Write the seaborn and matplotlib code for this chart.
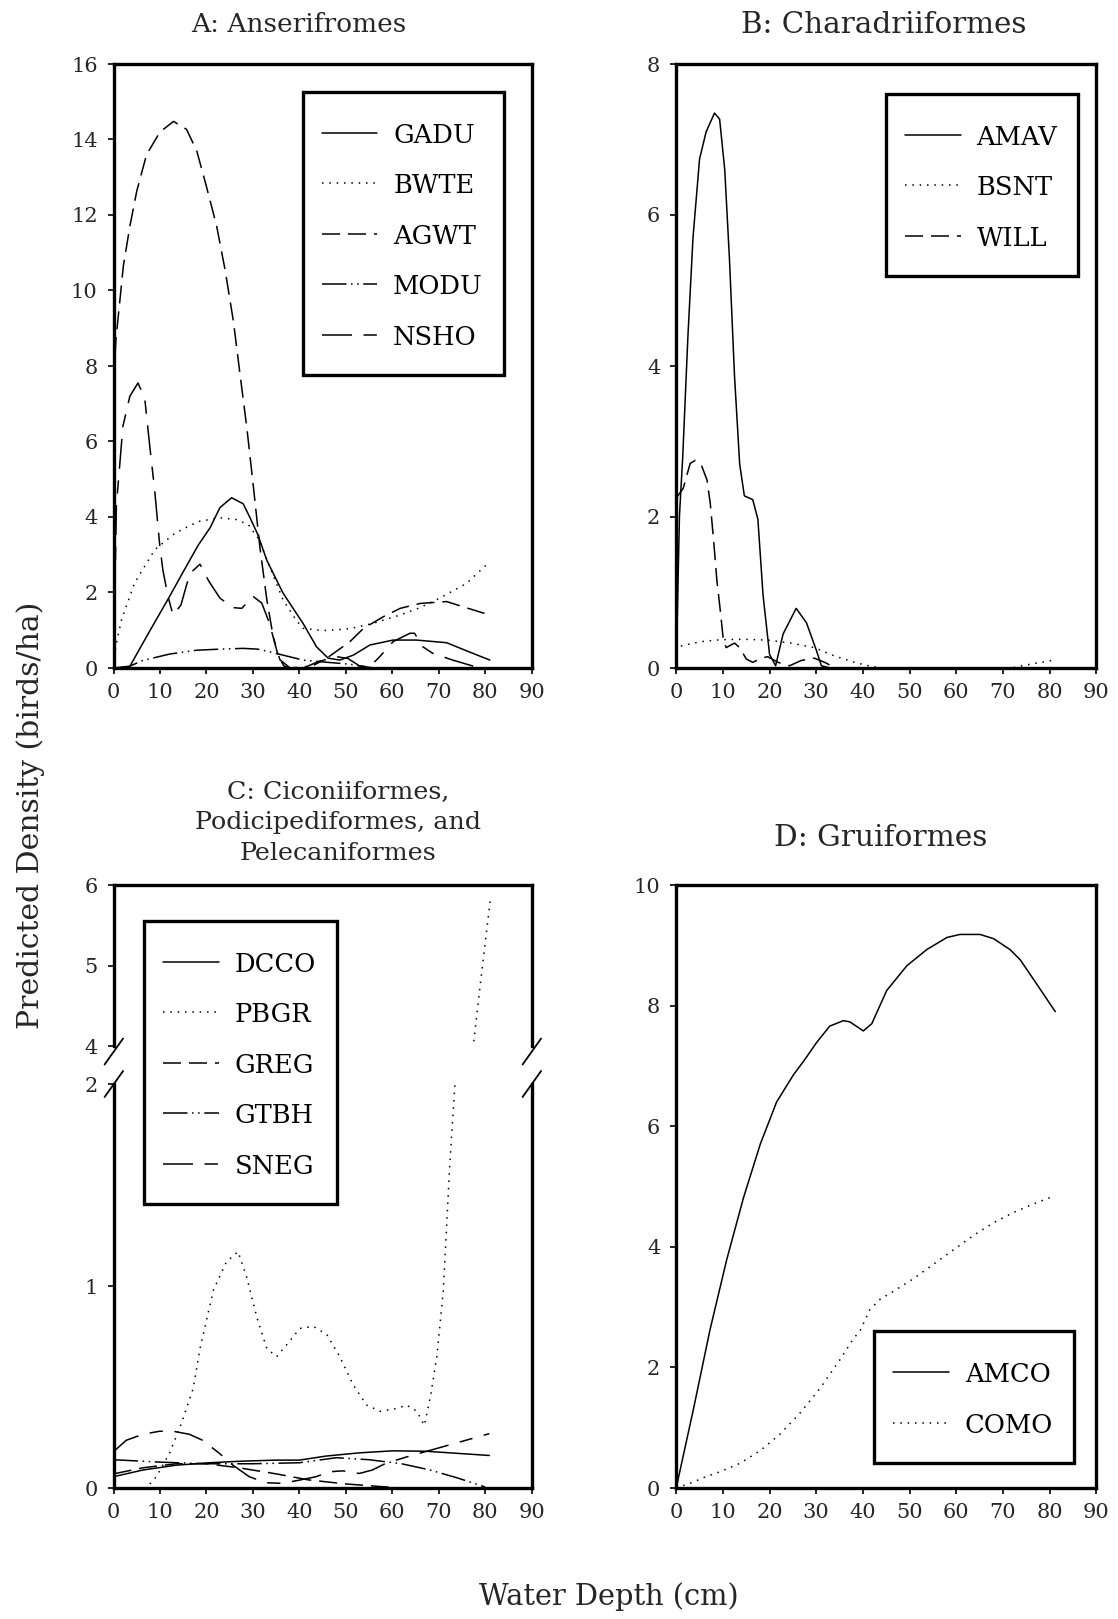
import matplotlib
matplotlib.use("Agg")
import matplotlib.pyplot as plt
from matplotlib.lines import Line2D
from matplotlib.patches import Rectangle
import seaborn as sns

# ---------------- data ----------------
# Panel A: Anseriformes
gadu_x = [0, 3.3, 7.5, 11.8, 15, 18.2, 20.8, 22.9, 25.4, 27.9, 29.3, 31, 33, 36.5, 40.8, 43.7,
          46.2, 48.7, 51.6, 55.2, 60.2, 65.2, 71.7, 76.3, 81]
gadu_y = [0, 0, 0.92, 1.84, 2.55, 3.25, 3.72, 4.25, 4.51, 4.35, 4.0, 3.55, 2.85, 1.98, 1.18, 0.56,
          0.26, 0.21, 0.34, 0.61, 0.74, 0.74, 0.67, 0.44, 0.21]
bwte_x = [0, 0.5, 1.7, 4.5, 8.85, 13.2, 18.2, 22.9, 26.5, 29, 31.4, 33.6, 36.5, 39.3, 40.8, 45.1,
          50.8, 55.8, 61.6, 66, 70.2, 76, 81]
bwte_y = [0.1, 0.6, 1.27, 2.25, 3.13, 3.57, 3.88, 3.98, 3.93, 3.8, 3.39, 2.68, 1.8, 1.27, 1.05, 0.99,
          1.04, 1.18, 1.4, 1.6, 1.85, 2.24, 2.82]
agwt_x = [0, 0.5, 2.1, 3.5, 5, 7.1, 10, 12.9, 15.7, 17.9, 20, 22.2, 24, 25.8, 27.2, 28.7, 30.1,
          31.5, 33, 34.4, 35.5, 36.7, 38, 41.6, 45.9, 50.9, 53.8, 58.1, 61.7, 66, 71.7, 75.3, 80.3]
agwt_y = [7.6, 8.7, 10.65, 11.7, 12.64, 13.6, 14.2, 14.48, 14.27, 13.7, 12.75, 11.7, 10.55, 9.18,
          7.8, 6.35, 4.8, 3.2, 1.8, 0.8, 0.3, 0.05, 0, 0.04, 0.26, 0.7, 1.05, 1.36, 1.58, 1.71,
          1.76, 1.62, 1.43]
modu_x = [0, 3.5, 6.3, 12.1, 17.8, 22.9, 27.9, 31, 34.3, 36.5, 40.8, 45.1, 50.9, 53.8, 56]
modu_y = [0, 0.05, 0.2, 0.37, 0.47, 0.5, 0.52, 0.5, 0.41, 0.34, 0.21, 0.16, 0.1, 0.04, 0]
nsho_x = [0, 0.6, 2.0, 3.5, 5.25, 6.7, 7.8, 8.85, 9.9, 10.6, 11.7, 12.8, 14.5, 16.4, 18.6, 20.5,
          22.9, 25.7, 27.6, 30, 31.9, 33.3, 35.8, 38, 42, 45, 48, 50.5, 53, 55.2, 57.3, 60.2,
          63.8, 64.8, 66.6, 68.7, 73, 78.8, 81]
nsho_y = [0, 4.3, 6.4, 7.2, 7.55, 7.15, 5.86, 4.7, 3.3, 2.6, 1.9, 1.4, 1.67, 2.5, 2.75, 2.3,
          1.85, 1.6, 1.58, 1.9, 1.72, 1.27, 0.22, 0, 0, 0.2, 0.3, 0.25, 0.05, 0.04, 0.3, 0.7,
          0.92, 0.92, 0.56, 0.39, 0.21, 0, 0]

# Panel B: Charadriiformes
amav_x = [0, 0.7, 1.4, 2.5, 3.6, 5.0, 6.4, 8.2, 9.3, 10.4, 11.4, 12.5, 13.6, 14.6, 16.4, 17.5,
          18.6, 20, 21.3, 22.9, 25.7, 27.9, 30, 31.1, 33]
amav_y = [0, 2.02, 2.8, 4.38, 5.7, 6.74, 7.1, 7.35, 7.27, 6.6, 5.43, 3.86, 2.7, 2.28, 2.23, 1.97,
          0.97, 0.18, 0.03, 0.45, 0.79, 0.6, 0.24, 0.03, 0]
bsnt_x = [1, 1.5, 5.4, 9.6, 14.6, 19.6, 24.6, 29.6, 33.9, 38.2, 41.8, 44.6, 72, 73.2, 76.8, 79.6, 80.5]
bsnt_y = [0.29, 0.3, 0.35, 0.375, 0.38, 0.37, 0.33, 0.27, 0.16, 0.075, 0.02, 0, 0, 0.02, 0.06, 0.09, 0.1]
will_x = [0, 1.5, 3.0, 4.1, 5.5, 6.6, 7.3, 8.0, 8.7, 9.5, 10.1, 10.7, 12.5, 13.6, 15, 16.4, 18.2,
          19.6, 21.8, 24.3, 26.8, 29.6, 31.8, 33.2]
will_y = [2.25, 2.38, 2.71, 2.75, 2.67, 2.49, 2.18, 1.7, 1.17, 0.73, 0.37, 0.27, 0.33, 0.27, 0.12,
          0.075, 0.13, 0.15, 0.075, 0.03, 0.1, 0.13, 0.075, 0.03]

# Panel C: Ciconiiformes, Podicipediformes, Pelecaniformes (broken axis)
dcco_x = [0, 6.3, 13.5, 20.6, 27.8, 35, 40, 45.7, 52.9, 60.1, 67.2, 74.4, 80.9]
dcco_y = [0.056, 0.089, 0.113, 0.125, 0.133, 0.138, 0.138, 0.158, 0.174, 0.184, 0.182, 0.171, 0.161]
pbgr_x = [7.8, 9.2, 12, 14.6, 17.1, 18.6, 21.5, 24.3, 26.8, 28.7, 30.9, 33, 35.1, 37.3, 40.1, 43,
          45.9, 48.7, 51.6, 54.5, 57.4, 60.3, 63.1, 65.3, 66.9, 68.2, 69.6, 71, 72.4, 73.5, 75.5,
          77.4, 79.2, 81.2]
pbgr_y = [0.02, 0.056, 0.17, 0.32, 0.49, 0.69, 0.98, 1.12, 1.17, 1.04, 0.84, 0.69, 0.65, 0.71,
          0.79, 0.8, 0.76, 0.65, 0.51, 0.41, 0.38, 0.39, 0.41, 0.38, 0.31, 0.45, 0.65, 0.98, 1.61,
          2.0, 3.0, 3.98, 4.89, 5.86]
greg_x = [0, 6.3, 13.5, 20, 27, 35, 42, 50, 57, 62]
greg_y = [0.07, 0.1, 0.12, 0.12, 0.1, 0.07, 0.04, 0.02, 0.008, 0.0]
gtbh_x = [0, 10, 20, 30, 40, 48, 55, 62, 68, 74, 80]
gtbh_y = [0.14, 0.128, 0.12, 0.12, 0.125, 0.15, 0.14, 0.12, 0.09, 0.05, 0.005]
sneg_x = [0, 2.7, 6.3, 9.9, 12.8, 16.3, 19.2, 22.8, 25.7, 29.2, 32.8, 36.4, 40, 43.6, 46.4, 49.3,
          52.9, 55.7, 58.6, 63.7, 68.7, 75.8, 80.9]
sneg_y = [0.18, 0.236, 0.266, 0.281, 0.281, 0.266, 0.236, 0.171, 0.113, 0.056, 0.026, 0.023,
          0.039, 0.056, 0.08, 0.085, 0.072, 0.089, 0.122, 0.158, 0.19, 0.236, 0.269]

# Panel D: Gruiformes
amco_x = [0, 3.7, 7.2, 10.8, 14.4, 18, 21.5, 25.1, 27.5, 30.1, 32.9, 35.8, 37.2, 40.1, 41.9, 45.1,
          49.4, 53.7, 58, 60.8, 65.1, 68, 71.5, 73.7, 77.3, 81.2]
amco_y = [0, 1.31, 2.61, 3.78, 4.81, 5.7, 6.4, 6.85, 7.1, 7.39, 7.66, 7.75, 7.73, 7.58, 7.7,
          8.25, 8.66, 8.93, 9.13, 9.18, 9.18, 9.11, 8.93, 8.76, 8.35, 7.9]
como_x = [0, 3.7, 5.8, 9.4, 13.7, 18, 22.2, 26.5, 30.8, 35.1, 37.9, 39.4, 41.5, 43.7, 46.5, 50.8,
          55.1, 59.4, 63.7, 68, 72.3, 76.5, 81.2]
como_y = [0, 0.1, 0.17, 0.27, 0.41, 0.62, 0.89, 1.24, 1.65, 2.13, 2.47, 2.61, 2.96, 3.13, 3.26,
          3.47, 3.71, 3.95, 4.19, 4.4, 4.57, 4.71, 4.85]

x_ticks = [0, 10, 20, 30, 40, 50, 60, 70, 80, 90]
titles = ["A: Anserifromes", "B: Charadriiformes",
          "C: Ciconiiformes,\nPodicipediformes, and\nPelecaniformes", "D: Gruiformes"]
x_label = "Water Depth (cm)"
y_label = "Predicted Density (birds/ha)"

# ---------------- styling ----------------
sns.set_theme(style="ticks")
plt.rcParams['font.family'] = ['DejaVu Serif']
plt.rcParams['axes.linewidth'] = 2.4
plt.rcParams['axes.edgecolor'] = 'black'

LW = 1.1
SOLID = '-'
DOT = (0, (1, 3.8))
DASH = (0, (11.8, 5.2))
DDOT = (0, (16, 3, 1, 3, 1, 3))
LONGSHORT = (0, (19.6, 7.6, 8.7, 7.6))

W, H = 1118, 1619
fig = plt.figure(figsize=(W / 100, H / 100), dpi=100)


def px_axes(left, top, right, bottom):
    return fig.add_axes([left / W, 1 - bottom / H, (right - left) / W, (bottom - top) / H])


axA = px_axes(113.6, 64, 531.6, 668)
axB = px_axes(676.2, 64, 1096.3, 668)
axCu = px_axes(113.6, 885, 531.6, 1046)
axCl = px_axes(113.6, 1084, 531.6, 1488)
axD = px_axes(676.2, 885, 1096.3, 1488)


def draw(ax, x, y, label, ls):
    sns.lineplot(x=x, y=y, ax=ax, color='black', lw=LW, label=label,
                 estimator=None, sort=False)
    line = ax.lines[-1]
    line.set_linestyle(ls)
    line.set_linewidth(LW)
    leg = ax.get_legend()
    if leg is not None:
        leg.remove()
    return line


def fmt(ax, ylim, yticks, xlabels=True):
    ax.set_xlim(0, 90)
    ax.set_ylim(*ylim)
    ax.set_xticks(x_ticks)
    ax.set_yticks(yticks)
    ax.set_xlabel('')
    ax.set_ylabel('')
    ax.tick_params(axis='both', direction='out', length=4.5, width=1.2, color='black',
                   labelsize=15, pad=6)
    ax.tick_params(axis='y', pad=7)
    for s in ax.spines.values():
        s.set_linewidth(2.4)
        s.set_color('black')
    if not xlabels:
        ax.tick_params(axis='x', bottom=False, labelbottom=False)


# Panel A
hA = [draw(axA, gadu_x, gadu_y, 'GADU', SOLID),
      draw(axA, bwte_x, bwte_y, 'BWTE', DOT),
      draw(axA, agwt_x, agwt_y, 'AGWT', DASH),
      draw(axA, modu_x, modu_y, 'MODU', DDOT),
      draw(axA, nsho_x, nsho_y, 'NSHO', LONGSHORT)]
fmt(axA, (0, 16), [0, 2, 4, 6, 8, 10, 12, 14, 16])

# Panel B
hB = [draw(axB, amav_x, amav_y, 'AMAV', SOLID),
      draw(axB, bsnt_x, bsnt_y, 'BSNT', DOT),
      draw(axB, will_x, will_y, 'WILL', DASH)]
fmt(axB, (0, 8), [0, 2, 4, 6, 8])

# Panel C (broken axis)
seriesC = [(dcco_x, dcco_y, 'DCCO', SOLID), (pbgr_x, pbgr_y, 'PBGR', DOT),
           (greg_x, greg_y, 'GREG', DASH), (gtbh_x, gtbh_y, 'GTBH', DDOT),
           (sneg_x, sneg_y, 'SNEG', LONGSHORT)]
hC = []
for xs, ys, lab, ls in seriesC:
    draw(axCu, xs, ys, lab, ls)
    hC.append(draw(axCl, xs, ys, lab, ls))
fmt(axCu, (4, 6), [4, 5, 6], xlabels=False)
fmt(axCl, (0, 2), [0, 1, 2])
axCu.spines['bottom'].set_visible(False)
axCl.spines['top'].set_visible(False)

# Panel D
hD = [draw(axD, amco_x, amco_y, 'AMCO', SOLID),
      draw(axD, como_x, como_y, 'COMO', DOT)]
fmt(axD, (0, 10), [0, 2, 4, 6, 8, 10])

# break marks
for cx in (113.6, 531.6):
    for cy in (1051.5, 1084):
        fig.add_artist(Line2D([(cx - 9) / W, (cx + 9.5) / W],
                              [1 - (cy + 13) / H, 1 - (cy - 13) / H],
                              transform=fig.transFigure, color='black', lw=1.3))

# legends (content via matplotlib legend, boxed frame with paper-like padding)
FS = 18.5


def legend(handles, hx, row0):
    lg = fig.legend(handles=handles, labels=[h.get_label() for h in handles],
                    loc='upper left', bbox_to_anchor=(hx / W, 1 - (row0 - 12) / H),
                    bbox_transform=fig.transFigure, fontsize=FS, frameon=False,
                    handlelength=2.16, handletextpad=0.62, borderpad=0,
                    handleheight=1.0, labelspacing=0.98, borderaxespad=0)
    lg.set_zorder(6)
    for t in lg.get_texts():
        t.set_color('black')
    return lg


legs = [legend(hA, 321.7, 134.6), legend(hB, 905, 136.6),
        legend(hC, 163.3, 963.7), legend(hD, 893.3, 1374)]

fig.canvas.draw()
r = fig.canvas.get_renderer()
for lg in legs:
    ext = lg.get_window_extent(r)
    tex = [t.get_window_extent(r) for t in lg.get_texts()]
    c0 = (tex[0].y0 + tex[0].y1) / 2
    cn = (tex[-1].y0 + tex[-1].y1) / 2
    x0 = ext.x0 - 19
    x1 = max(t.x1 for t in tex) + 21
    ytop = c0 + 43.5
    ybot = cn - 38
    fig.add_artist(Rectangle((x0 / W, ybot / H), (x1 - x0) / W, (ytop - ybot) / H,
                             transform=fig.transFigure, facecolor='white',
                             edgecolor='black', lw=2.4, zorder=5))

# titles and axis labels
fig.text(299 / W, 1 - 25 / H, titles[0], ha='center', va='center', fontsize=19)
fig.text(884 / W, 1 - 25 / H, titles[1], ha='center', va='center', fontsize=21.2)
fig.text(338 / W, 1 - 822.8 / H, titles[2], ha='center', va='center', fontsize=18.3,
         linespacing=1.4, multialignment='center')
fig.text(881 / W, 1 - 838 / H, titles[3], ha='center', va='center', fontsize=21.3)
fig.text(31 / W, 1 - 815 / H, y_label, ha='center', va='center', rotation=90, fontsize=21.5)
fig.text(609 / W, 1 - 1597 / H, x_label, ha='center', va='center', fontsize=20.8)

fig.savefig('out.png', dpi=100, facecolor='white')
